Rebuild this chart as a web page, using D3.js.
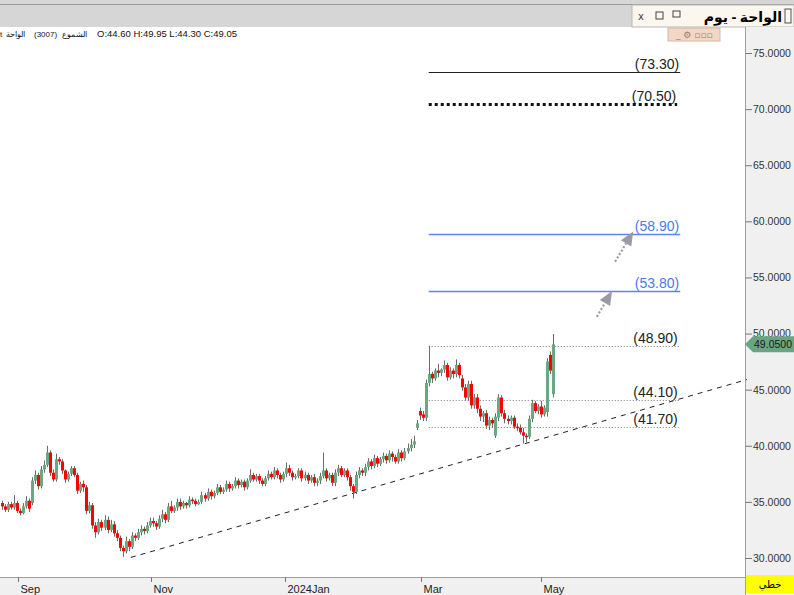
<!DOCTYPE html>
<html><head><meta charset="utf-8">
<script src="https://cdn.jsdelivr.net/npm/d3@7"></script>
<style>body{margin:0;background:#fff;overflow:hidden}svg{display:block;font-family:"DejaVu Sans",sans-serif}</style>
</head><body><svg id="c" width="794" height="595"></svg>
<script>
// candles, one per trading day, oldest first
var opens = [34.9,34.6,34.3,34.8,34.5,34.9,34.2,34.0,34.6,35.1,
 34.9,36.9,37.4,36.4,37.9,38.3,39.4,37.6,37.0,38.8,
 38.6,37.8,37.0,37.5,38.0,37.4,36.0,36.6,36.3,34.2,
 34.7,32.9,32.3,33.2,32.7,33.4,32.5,33.0,32.2,31.8,
 30.9,30.6,31.5,31.0,32.0,31.8,32.3,32.6,32.4,32.9,
 33.3,33.1,32.8,33.5,33.9,33.4,34.6,34.2,34.5,35.0,
 34.6,34.9,34.7,35.2,35.1,34.8,35.0,35.6,35.3,35.9,
 35.5,35.8,36.3,35.9,36.1,36.6,36.2,36.4,36.9,36.5,
 36.8,36.3,36.9,37.4,37.0,37.3,36.9,36.6,37.1,37.5,
 37.2,37.8,37.4,37.0,37.5,38.0,37.6,37.2,37.3,37.8,
 37.1,37.4,36.9,37.2,36.7,36.9,37.3,37.8,37.1,37.4,
 36.7,37.6,38.0,37.4,37.8,37.2,36.4,35.9,37.4,37.8,
 37.6,38.1,38.6,38.2,38.9,38.4,38.8,39.1,38.7,39.3,
 39.0,38.6,39.4,38.9,39.5,39.8,40.1,41.6,43.1,42.8,
 42.5,45.6,46.4,46.0,46.7,46.5,46.8,47.2,46.1,46.7,
 46.4,47.2,46.0,45.2,44.3,45.5,43.6,44.3,43.3,42.6,
 42.9,41.8,42.3,40.9,42.5,44.3,42.9,42.4,42.2,42.5,
 41.7,41.6,41.2,40.9,40.8,42.4,43.8,43.1,43.5,42.8,43.0,48.1,44.6];
var highs = [35.1,34.8,35.0,35.0,35.6,35.1,34.4,34.9,35.5,35.3,
 37.2,37.8,37.6,38.2,38.7,40.0,39.6,37.9,39.3,39.0,
 38.8,37.9,37.7,38.2,38.2,37.6,36.8,36.9,36.5,35.0,
 34.9,33.2,33.5,33.4,33.8,33.7,33.4,33.3,32.5,32.0,
 31.1,31.9,31.7,32.3,32.2,32.6,32.9,32.8,33.2,33.6,
 33.6,33.3,33.8,34.3,34.1,34.9,35.1,34.7,35.3,35.3,
 35.1,35.0,35.5,35.4,35.3,35.2,35.9,35.8,36.2,36.1,
 36.0,36.6,36.5,36.3,36.9,36.8,36.6,37.2,37.1,37.0,
 37.0,37.1,37.9,37.6,37.5,37.5,37.1,37.3,37.8,37.7,
 38.1,38.0,37.6,37.7,38.5,38.3,37.8,37.5,38.0,38.0,
 37.7,37.6,37.4,37.5,37.1,37.6,39.4,38.0,37.6,37.6,
 37.9,38.3,38.2,38.0,38.0,37.4,36.6,37.7,38.1,38.0,
 38.4,38.9,38.8,39.2,39.1,39.0,39.4,39.3,39.6,39.5,
 39.2,39.7,39.6,39.8,40.2,40.6,40.9,42.3,43.4,43.1,
 45.9,48.9,46.6,46.9,47.3,46.9,47.6,47.4,47.0,46.9,
 47.7,47.4,46.3,45.5,45.8,45.8,44.6,44.6,43.6,43.1,
 43.2,42.6,42.5,42.9,44.6,44.5,43.2,42.7,42.7,42.7,
 42.0,41.9,41.6,41.1,42.7,44.1,44.0,43.7,44.0,43.6,47.8,48.4,49.95];
var lows = [34.3,34.1,34.1,34.3,34.3,34.0,33.8,33.9,34.4,34.1,
 34.7,36.6,36.1,36.2,37.6,38.1,37.3,36.8,36.8,38.3,
 37.5,36.7,36.8,37.3,37.2,35.7,35.8,35.9,33.9,34.0,
 32.6,31.8,32.1,32.4,32.5,32.2,32.3,31.9,31.5,30.6,
 30.1,30.4,30.6,30.8,31.5,31.6,32.0,32.1,32.2,32.7,
 32.8,32.5,32.6,33.2,33.1,33.2,34.0,34.0,34.2,34.3,
 34.4,34.4,34.5,34.8,34.6,34.7,34.8,35.0,35.1,35.2,
 35.3,35.6,35.7,35.7,35.9,35.9,36.0,36.2,36.2,36.3,
 36.0,36.1,36.7,36.8,36.8,36.6,36.4,36.4,36.9,37.0,
 37.0,37.1,36.7,36.8,37.2,37.3,36.9,37.0,37.1,36.8,
 36.9,36.6,36.7,36.4,36.4,36.6,37.1,36.8,36.9,36.4,
 36.4,37.3,37.2,37.2,36.9,36.0,35.3,35.7,37.1,37.3,
 37.3,37.8,37.9,38.0,38.1,38.2,38.5,38.4,38.5,38.6,
 38.4,38.4,38.6,38.7,39.3,39.5,39.8,41.4,42.3,42.2,
 42.2,45.3,45.6,45.8,46.1,46.2,46.5,45.8,45.9,46.0,
 46.1,46.0,44.9,44.0,44.0,43.3,43.3,42.9,42.2,42.1,
 41.5,41.4,41.6,40.7,42.2,42.6,42.0,41.9,41.9,41.5,
 41.3,41.0,40.2,40.3,40.6,42.1,42.9,42.8,42.5,42.6,42.6,46.4,44.3];
var closes = [34.6,34.3,34.8,34.5,34.9,34.2,34.0,34.6,35.1,34.4,
 36.9,37.4,36.4,37.9,38.3,39.4,37.6,37.0,38.8,38.6,
 37.8,37.0,37.5,38.0,37.4,36.0,36.6,36.3,34.2,34.7,
 32.9,32.3,33.2,32.7,33.4,32.5,33.0,32.2,31.8,30.9,
 30.6,31.5,31.0,32.0,31.8,32.3,32.6,32.4,32.9,33.3,
 33.1,32.8,33.5,33.9,33.4,34.6,34.2,34.5,35.0,34.6,
 34.9,34.7,35.2,35.1,34.8,35.0,35.6,35.3,35.9,35.5,
 35.8,36.3,35.9,36.1,36.6,36.2,36.4,36.9,36.5,36.8,
 36.3,36.9,37.4,37.0,37.3,36.9,36.6,37.1,37.5,37.2,
 37.8,37.4,37.0,37.5,38.0,37.6,37.2,37.3,37.8,37.1,
 37.4,36.9,37.2,36.7,36.9,37.3,37.8,37.1,37.4,36.7,
 37.6,38.0,37.4,37.8,37.2,36.4,35.9,37.4,37.8,37.6,
 38.1,38.6,38.2,38.9,38.4,38.8,39.1,38.7,39.3,39.0,
 38.6,39.4,38.9,39.5,39.8,40.1,40.4,42.0,42.7,42.5,
 45.6,46.4,46.0,46.7,46.5,46.8,47.2,46.1,46.7,46.4,
 47.2,46.3,45.2,44.3,45.5,43.6,44.3,43.3,42.6,42.9,
 41.8,42.3,42.0,42.6,44.3,42.9,42.4,42.2,42.5,41.7,
 41.6,41.2,40.9,40.8,42.4,43.8,43.1,43.5,42.8,43.4,47.5,46.7,49.05];

var monthLabels = ["Sep","Nov","2024Jan","Mar","May"];
var monthIdx = [5.5,49.5,93.7,138.5,178.2];
var priceTicks = [30,35,40,45,50,55,60,65,70,75];

// drawn studies
var levels = [
  {v:73.30, from:141, to:224, kind:"solid"},
  {v:70.50, from:141, to:223, kind:"bigdot"},
  {v:58.90, from:141, to:224, kind:"blue"},
  {v:53.80, from:141, to:224, kind:"blue"},
  {v:48.90, from:141, to:223.5, kind:"dot"},
  {v:44.10, from:141, to:223.5, kind:"dot"},
  {v:41.70, from:141, to:223.5, kind:"dot"}
];
var trendPts = [[42.7,30.05],[246,45.9]];
var arrows = [[[196.5,51.5],[201.5,53.8]],[[202.5,56.4],[208.5,59.1]]];
var lastPrice = 49.05;
var infoParts = [["t",0],["الواحة",6],["(3007)",34],["الشموع",62],["O:44.60  H:49.95  L:44.30  C:49.05",97]];

var svg = d3.select("#c");
var W = 794, H = 595, plotR = 745, plotT = 27, plotB = 577;

var xi = function(i){ return 1.5 + i*3.03; };
var y = d3.scaleLinear().domain([30,75]).range([558,53]);

svg.append("rect").attr("width",W).attr("height",H).attr("fill","#fff");

// header
svg.append("rect").attr("x",0).attr("y",0).attr("width",W).attr("height",27).attr("fill","#d6d6d6");
svg.append("line").attr("x1",0).attr("x2",W).attr("y1",4.5).attr("y2",4.5).attr("stroke","#9a9a9a");
svg.append("rect").attr("x",632).attr("y",5).attr("width",W-632).attr("height",22).attr("fill","#fbf6ee").attr("stroke","#b8b8b8");
svg.append("text").attr("x",782).attr("y",22).attr("text-anchor","end").attr("font-size",14).attr("font-weight","bold")
  .attr("font-family","Noto Sans, DejaVu Sans").text("الواحة - يوم");
svg.append("rect").attr("x",785).attr("y",9).attr("width",6).attr("height",14).attr("fill","none").attr("stroke","#555");
svg.append("text").attr("x",638).attr("y",20).attr("font-size",10).attr("fill","#444").text("x");
svg.append("rect").attr("x",656).attr("y",12).attr("width",7).attr("height",7).attr("fill","none").attr("stroke","#444");
svg.append("rect").attr("x",673).attr("y",11).attr("width",7).attr("height",6).attr("fill","none").attr("stroke","#444");
infoParts.forEach(function(p){
  svg.append("text").attr("x",p[1]).attr("y",37).attr("font-size",p[1]===97?9.5:8).attr("fill","#111")
    .attr("font-family","Liberation Sans, Arial").text(p[0]);
});
svg.append("rect").attr("x",668).attr("y",28).attr("width",52).attr("height",13).attr("fill","#f2d7c6").attr("stroke","#d6b6a3");
svg.append("text").attr("x",676).attr("y",38).attr("font-size",9).attr("fill","#9a7f70").text("_  ⚙  ▫▫▫");

// right axis + bottom axis panels
svg.append("rect").attr("x",plotR).attr("y",27).attr("width",W-plotR).attr("height",H-27).attr("fill","#f0f0f0");
svg.append("rect").attr("x",0).attr("y",plotB).attr("width",plotR).attr("height",H-plotB).attr("fill","#f0f0f0");
svg.append("line").attr("x1",plotR+0.5).attr("x2",plotR+0.5).attr("y1",27).attr("y2",H).attr("stroke","#a0a0a0");
svg.append("line").attr("x1",0).attr("x2",plotR).attr("y1",plotB+0.5).attr("y2",plotB+0.5).attr("stroke","#a0a0a0");

var ya = svg.append("g").attr("transform","translate("+(plotR+1)+",0)")
  .call(d3.axisRight(y).tickValues(priceTicks).tickFormat(d3.format(".4f")).tickSize(6).tickPadding(1));
ya.select(".domain").remove();
ya.selectAll("line").attr("stroke","#777");
ya.selectAll("text").attr("font-size",10.5).attr("fill","#333").attr("font-family","Liberation Sans, Arial");

var xa = svg.append("g").attr("transform","translate(0,"+plotB+")");
monthIdx.forEach(function(m,k){
  var px = Math.round(xi(m))+0.5;
  xa.append("line").attr("x1",px).attr("x2",px).attr("y1",0).attr("y2",5).attr("stroke","#777");
  xa.append("text").attr("x",px+2).attr("y",16).attr("font-size",11).attr("fill","#222")
    .attr("font-family","Liberation Sans, Arial").text(monthLabels[k]);
});

// levels
var plot = svg.append("g");
levels.forEach(function(l){
  var yy = Math.round(y(l.v))+0.5;
  var ln = plot.append("line").attr("x1",xi(l.from)).attr("x2",xi(l.to)).attr("y1",yy).attr("y2",yy);
  if(l.kind==="solid") ln.attr("stroke","#222").attr("stroke-width",1);
  if(l.kind==="bigdot") ln.attr("stroke","#111").attr("stroke-width",3).attr("stroke-dasharray","3,3");
  if(l.kind==="blue") ln.attr("stroke","#5b86f2").attr("stroke-width",1.3);
  if(l.kind==="dot") ln.attr("stroke","#777").attr("stroke-dasharray","1,2");
  plot.append("text").attr("x",xi(l.to)-1).attr("y",yy-4).attr("text-anchor","end")
    .attr("font-size",14).attr("font-family","Liberation Sans, Arial")
    .attr("fill", l.kind==="blue" ? "#4a79ee" : "#222")
    .text("(" + l.v.toFixed(2) + ")");
});

// trend line
plot.append("line").attr("x1",xi(trendPts[0][0])).attr("y1",y(trendPts[0][1]))
  .attr("x2",xi(trendPts[1][0])).attr("y2",y(trendPts[1][1]))
  .attr("stroke","#222").attr("stroke-width",1).attr("stroke-dasharray","5,5");

// arrows
arrows.forEach(function(a){
  var x1=xi(a[0][0]), y1=y(a[0][1]), x2=xi(a[1][0]), y2=y(a[1][1]);
  var ang = Math.atan2(y2-y1,x2-x1), L=14, hw=6;
  var bx = x2 - L*Math.cos(ang), by = y2 - L*Math.sin(ang);
  plot.append("line").attr("x1",x1).attr("y1",y1).attr("x2",bx).attr("y2",by)
    .attr("stroke","#9a9aa2").attr("stroke-width",2.2).attr("stroke-dasharray","2,2");
  var p = [[x2,y2],[bx+hw*Math.sin(ang),by-hw*Math.cos(ang)],[bx-hw*Math.sin(ang),by+hw*Math.cos(ang)]];
  plot.append("path").attr("d","M"+p.map(function(q){return q.join(",");}).join("L")+"Z").attr("fill","#9a9aa2");
});

// candles
var idx = d3.range(closes.length);
var cg = plot.append("g");
cg.selectAll("line.w").data(idx).join("line")
  .attr("x1",function(i){return Math.round(xi(i))+0.5;}).attr("x2",function(i){return Math.round(xi(i))+0.5;})
  .attr("y1",function(i){return y(highs[i]);}).attr("y2",function(i){return y(lows[i]);})
  .attr("stroke","#6b6b6b");
cg.selectAll("rect").data(idx).join("rect")
  .attr("x",function(i){return Math.round(xi(i))-1;}).attr("width",3)
  .attr("y",function(i){return y(Math.max(opens[i],closes[i]));})
  .attr("height",function(i){return Math.max(1.5, Math.abs(y(opens[i])-y(closes[i])));})
  .attr("fill",function(i){return closes[i]>=opens[i] ? "#69a883" : "#ff0000";});

// last price tag
var ly = y(lastPrice);
svg.append("path").attr("d","M"+(plotR)+","+ly+"L"+(plotR+8)+","+(ly-8)+"L"+W+","+(ly-8)+"L"+W+","+(ly+8)+"L"+(plotR+8)+","+(ly+8)+"Z")
  .attr("fill","#6aa583");
svg.append("text").attr("x",W-2).attr("y",ly+4).attr("text-anchor","end").attr("font-size",10.5)
  .attr("font-family","Liberation Sans, Arial").attr("fill","#1a1a1a").text(lastPrice.toFixed(4));

// bottom right box
svg.append("rect").attr("x",plotR+1).attr("y",575).attr("width",W-plotR-1).attr("height",18).attr("fill","#ffff00");
svg.append("text").attr("x",770).attr("y",588).attr("text-anchor","middle").attr("font-size",10)
  .attr("font-family","Noto Sans, DejaVu Sans").text("خطي");
</script></body></html>
